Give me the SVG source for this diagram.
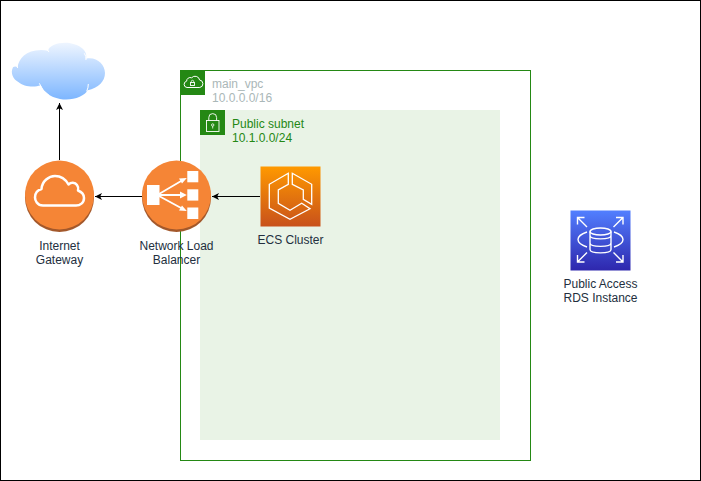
<svg xmlns="http://www.w3.org/2000/svg" width="701" height="481" viewBox="0 0 701 481">
<style>
text{font-family:"Liberation Sans",Arial,sans-serif;font-size:12px;fill:#232f3e}
.c{text-anchor:middle}
.conn{fill:none;stroke:#000;stroke-width:1}
.w{fill:#fff}
.rl{fill:none;stroke:#fff;stroke-width:1.400;stroke-linejoin:miter}
.el{fill:none;stroke:#fff;stroke-width:1.300;stroke-linejoin:miter}
.vpcText{fill:#aab7b8}
.subText{fill:#248814}
</style>
<defs>
<linearGradient id="cloudG" x1="0" y1="0" x2="0" y2="1"><stop offset="0" stop-color="#eef5ff"/><stop offset="1" stop-color="#7db6ff"/></linearGradient>
<linearGradient id="ecsG" x1="0" y1="1" x2="0" y2="0"><stop offset="0" stop-color="#c8511b"/><stop offset="1" stop-color="#f90"/></linearGradient>
<linearGradient id="rdsG" x1="0" y1="1" x2="0" y2="0"><stop offset="0" stop-color="#2e27ad"/><stop offset="1" stop-color="#527fff"/></linearGradient>
<marker id="arr" markerWidth="8" markerHeight="8" refX="7" refY="4" orient="auto" markerUnits="userSpaceOnUse"><path d="M7,4L0,7.5L1.800,4L0,.5Z" fill="#000"/></marker>
</defs>
<rect width="701" height="481" fill="#fff"/>
<rect x="0.500" y="0.500" width="700" height="480" fill="none" stroke="#000"/>
<g id="vpc">
<rect x="180.500" y="70.500" width="350" height="390" fill="none" stroke="#248814"/>
<rect x="180" y="70" width="25" height="25" fill="#248814"/>
<path d="M187 87.500a3.200 3.200 0 0 1-.4-6.300a3.600 3.600 0 0 1 5-3.400a4.600 4.600 0 0 1 8 2.200a3.800 3.800 0 0 1 .2 7.500Z" fill="none" stroke="#fff" stroke-width="1"/>
<rect x="190.500" y="82.500" width="4" height="3" fill="none" stroke="#fff" stroke-width=".9"/>
<path d="M191.300 82.500v-1a1.200 1.200 0 0 1 2.400 0v1" fill="none" stroke="#fff" stroke-width=".8"/>
<text class="vpcText" x="212" y="88">main_vpc</text>
<text class="vpcText" x="212" y="102">10.0.0.0/16</text>
</g>
<g id="subnet">
<rect x="200" y="110" width="300" height="330" fill="#e9f3e6"/>
<rect x="200" y="110" width="25" height="25" fill="#248814"/>
<rect x="206.500" y="120.500" width="12.500" height="11" fill="none" stroke="#fff" stroke-width=".9"/>
<path d="M208.800 120.500v-3a3.900 3.900 0 0 1 7.800 0v3" fill="none" stroke="#fff" stroke-width=".9"/>
<circle cx="212.700" cy="125" r="1.200" fill="none" stroke="#fff" stroke-width=".8"/>
<path d="M212.700 126.200v2.300" stroke="#fff" stroke-width=".8"/>
<text class="subText" x="232" y="128">Public subnet</text>
<text class="subText" x="232" y="142">10.1.0.0/24</text>
</g>
<g id="connectors">
<path class="conn" d="M59.500 160V103" marker-end="url(#arr)"/>
<path class="conn" d="M142 196.500H95" marker-end="url(#arr)"/>
<path class="conn" d="M260 196.500H212" marker-end="url(#arr)"/>
</g>
<g id="cloud">
<path transform="translate(5 38) scale(.3333)" d="M38 88C40 60 70 28 130 38C130 20 175 8 205 18C235 25 248 45 243 62C275 55 300 80 300 105C300 130 280 150 248 157C240 175 200 190 165 183C135 178 115 160 107 142C85 150 55 145 40 132C25 125 15 105 24 88C27 85 35 85 38 88Z" fill="url(#cloudG)"/>
<path transform="translate(5 38) scale(.3333)" d="M103 136Q112 160 132 172M250 138Q250 150 245 160M243 66Q244 54 238 46M132 42Q128 35 120 32M38 90Q36 84 34 80" fill="none" stroke="#fff" stroke-width="3"/>
</g>
<g id="igw">
<circle cx="59.500" cy="197.500" r="34.500" fill="#a3582b"/>
<circle cx="59.500" cy="195" r="34.500" fill="#f58536"/>
<path d="M43 205.500C37 205.500 35 200 35 197.500C35 193 38 190 41.500 189C42 181 49 176 55 176C61 176 66 180 68.500 184.500C71 182 75 182 77 185C78.500 187 78.500 189 78 190.500C82 192 84 195 84 198C84 203 80 205.500 76 205.500Z" fill="none" stroke="#fff" stroke-width="2.500" stroke-linejoin="round"/>
<text class="c" x="59.500" y="250">Internet</text>
<text class="c" x="59.500" y="264">Gateway</text>
</g>
<g id="nlb">
<circle cx="176.500" cy="197.500" r="34.500" fill="#a3582b"/>
<circle cx="176.500" cy="195" r="34.500" fill="#f58536"/>
<rect class="w" x="147" y="185" width="12.500" height="20"/>
<rect class="w" x="187.300" y="171" width="11" height="11.300"/>
<rect class="w" x="187.300" y="189.300" width="11" height="11.300"/>
<rect class="w" x="187.300" y="207.500" width="11" height="11.500"/>
<path d="M159 194L182 180.500M159 195H181M159 196L182 208.500" stroke="#fff" stroke-width="1.800" fill="none"/>
<path class="w" d="M186.800 178L179 178.500L182 183.500ZM186.800 195L180 191.500V198.500ZM186.800 211L182 205.500L179 210.500Z"/>
<text class="c" x="176.500" y="250">Network Load</text>
<text class="c" x="176.500" y="264">Balancer</text>
</g>
<g id="ecs">
<rect x="260.500" y="166.500" width="60" height="60" fill="url(#ecsG)"/>
<path class="el" d="M288.300 173.300L269.300 184.300V208L290 219.300L310 208.700L301.700 203.300L290 210.300L278.300 203.300V190L288.300 184.300Z"/>
<path class="el" d="M292.300 173.300L311.700 184.300V204.300L303.300 199.300V190L292.300 184.300Z"/>
<text class="c" x="290.500" y="244">ECS Cluster</text>
</g>
<g id="rds">
<rect x="570.500" y="210.500" width="60" height="60" fill="url(#rdsG)"/>
<ellipse class="rl" cx="600.500" cy="231.500" rx="10.500" ry="3.500"/>
<path class="rl" d="M590 231.500V249.500c0 4.500 21 4.500 21 0V231.500M590 235.500c0 4.500 21 4.500 21 0M590 243c0 4.500 21 4.500 21 0"/>
<path class="rl" d="M587 232c-6 2-9 5-9 7.500s3 5.500 9 7.500M614 232c6 2 9 5 9 7.500s-3 5.500-9 7.500"/>
<path class="rl" d="M577.500 217.500L587 227M577.500 224.500V217.500H584.500M623 217.500L613.500 227M623 224.500V217.500H616M577.500 262L587 252.500M577.500 255V262H584.500M623 262L613.500 252.500M623 255V262H616"/>
<text class="c" x="600.500" y="288">Public Access</text>
<text class="c" x="600.500" y="302">RDS Instance</text>
</g>
</svg>
